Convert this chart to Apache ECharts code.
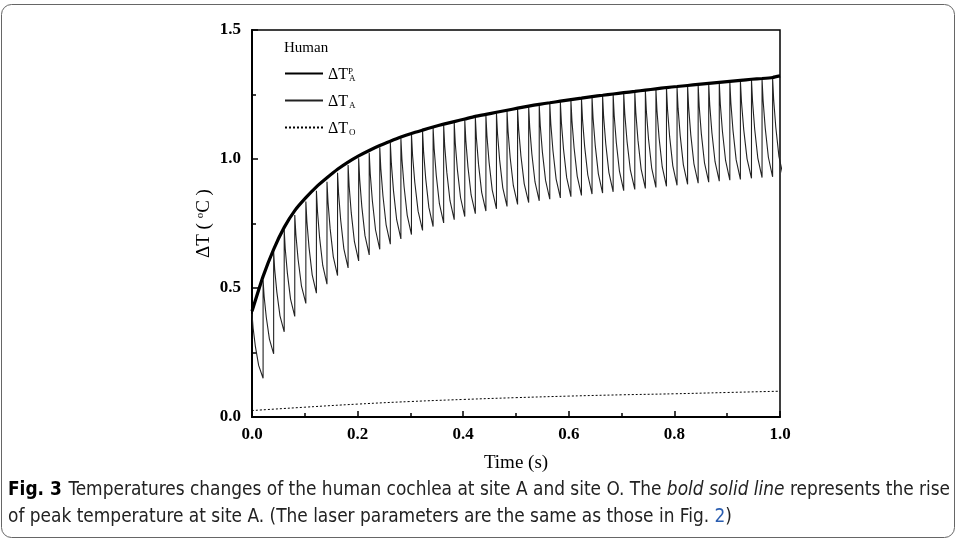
<!DOCTYPE html>
<html>
<head>
<meta charset="utf-8">
<script src="https://cdn.jsdelivr.net/npm/echarts@6/dist/echarts.min.js"></script>
<style>
html,body{margin:0;padding:0;background:#fff;}
#c{width:957px;height:541px;}
</style>
</head>
<body>
<div id="c"></div>
<script>
// ---- data ----
// times of the laser pulses (s); the last entry lies just past the axis end
const pulseTimes = [0, 0.021, 0.041, 0.061, 0.081, 0.102, 0.122, 0.142, 0.162, 0.182,
  0.202, 0.222, 0.242, 0.262, 0.282, 0.302, 0.323, 0.343, 0.363, 0.383,
  0.403, 0.423, 0.443, 0.463, 0.483, 0.503, 0.524, 0.544, 0.564, 0.584,
  0.604, 0.624, 0.644, 0.664, 0.684, 0.704, 0.725, 0.745, 0.765, 0.785,
  0.805, 0.825, 0.845, 0.865, 0.885, 0.905, 0.925, 0.946, 0.966, 0.986, 1.006];
// ΔT_A value at the top of each pulse
const peakA = [0.40, 0.53, 0.64, 0.725, 0.783, 0.835, 0.877, 0.912, 0.947, 0.977,
  1.003, 1.024, 1.045, 1.063, 1.080, 1.097, 1.110, 1.121, 1.131, 1.141,
  1.151, 1.162, 1.169, 1.177, 1.186, 1.194, 1.203, 1.209, 1.215, 1.222,
  1.228, 1.234, 1.240, 1.245, 1.250, 1.255, 1.260, 1.265, 1.270, 1.275,
  1.279, 1.283, 1.287, 1.291, 1.295, 1.299, 1.303, 1.307, 1.310, 1.314];
// ΔT_A value just before each following pulse (trough)
const troughA = [0.15, 0.245, 0.33, 0.39, 0.44, 0.48, 0.515, 0.548, 0.578, 0.605,
  0.628, 0.650, 0.670, 0.690, 0.707, 0.723, 0.738, 0.752, 0.765, 0.777,
  0.788, 0.798, 0.807, 0.816, 0.824, 0.831, 0.838, 0.844, 0.849, 0.854,
  0.859, 0.864, 0.868, 0.873, 0.877, 0.882, 0.886, 0.890, 0.894, 0.898,
  0.902, 0.906, 0.910, 0.914, 0.918, 0.921, 0.925, 0.928, 0.931, 0.934];
// shape of one cooling tail: fraction of the period vs. fraction of the drop
const tailFrac = [0.1, 0.3, 0.6];
const tailDrop = [0.22, 0.5, 0.8];
// ΔT_A^P (bold line): times and values
const peakLineTimes = [0, 0.021, 0.041, 0.061, 0.081, 0.102, 0.122, 0.142, 0.162, 0.182,
  0.202, 0.222, 0.242, 0.262, 0.282, 0.302, 0.323, 0.343, 0.363, 0.383,
  0.403, 0.423, 0.443, 0.463, 0.483, 0.503, 0.524, 0.544, 0.564, 0.584,
  0.604, 0.624, 0.644, 0.664, 0.684, 0.704, 0.725, 0.745, 0.765, 0.785,
  0.805, 0.825, 0.845, 0.865, 0.885, 0.905, 0.925, 0.946, 0.966, 0.986, 1.0];
const peakLineVals = [0.41, 0.545, 0.65, 0.735, 0.80, 0.85, 0.892, 0.927, 0.96, 0.988,
  1.012, 1.033, 1.052, 1.069, 1.085, 1.099, 1.112, 1.124, 1.135, 1.145,
  1.155, 1.165, 1.173, 1.181, 1.189, 1.197, 1.205, 1.212, 1.218, 1.224,
  1.230, 1.236, 1.242, 1.247, 1.252, 1.257, 1.262, 1.267, 1.272, 1.277,
  1.281, 1.285, 1.289, 1.293, 1.297, 1.301, 1.305, 1.309, 1.312, 1.316, 1.322];
// ΔT_O (dotted line)
const oTimes = [0, 0.1, 0.2, 0.3, 0.4, 0.5, 0.6, 0.7, 0.8, 0.9, 1.0];
const oVals = [0.025, 0.038, 0.050, 0.060, 0.068, 0.075, 0.081, 0.086, 0.090, 0.095, 0.100];
const yTicks = [0, 0.5, 1.0, 1.5];
const xTicks = [0, 0.2, 0.4, 0.6, 0.8, 1.0];

// ---- build series data ----
const thin = [];
for (let k = 0; k < peakA.length; k++) {
  const t0 = pulseTimes[k], t1 = pulseTimes[k + 1];
  if (k > 0) thin.push([t0, troughA[k - 1]]);
  thin.push([t0, peakA[k]]);
  for (let j = 0; j < tailFrac.length; j++) {
    thin.push([t0 + tailFrac[j] * (t1 - t0), peakA[k] - (peakA[k] - troughA[k]) * tailDrop[j]]);
  }
}
thin.push([pulseTimes[pulseTimes.length - 1], troughA[troughA.length - 1]]);
const bold = peakLineTimes.map((t, i) => [t, peakLineVals[i]]);
const dotted = oTimes.map((t, i) => [t, oVals[i]]);

const serif = "'Liberation Serif', 'DejaVu Serif', serif";
const sans = "'Liberation Sans Narrow','DejaVu Sans Condensed','Open Sans',sans-serif";
const legendRich = {
  m: {fontFamily: serif, fontSize: 16, color: '#000', lineHeight: 16},
  sup: {fontFamily: serif, fontSize: 9, color: '#000', verticalAlign: 'top', width: 1, padding: [0, 0, 9, 0], lineHeight: 9},
  sub: {fontFamily: serif, fontSize: 9, color: '#000', verticalAlign: 'bottom', lineHeight: 9, padding: [9, 0, 0, 0]}
};

const chart = echarts.init(document.getElementById('c'), null, {renderer: 'canvas'});
chart.setOption({
  backgroundColor: '#fff',
  animation: false,
  color: ['#000', '#222', '#000'],
  grid: {left: 252, right: 177, top: 30, bottom: 124, show: true, borderColor: '#000', borderWidth: 1.5, containLabel: false},
  xAxis: {
    type: 'value', min: 0, max: 1.0, interval: 0.2,
    name: 'Time (s)', nameLocation: 'middle', nameGap: 37,
    nameTextStyle: {fontFamily: serif, fontSize: 19, color: '#000'},
    axisLine: {show: true, lineStyle: {color: '#000', width: 2}},
    axisTick: {show: true, inside: true, length: 6, lineStyle: {color: '#000', width: 1.5}},
    minorTick: {show: true, splitNumber: 2, length: 4, lineStyle: {color: '#000', width: 1.5}},
    splitLine: {show: false},
    axisLabel: {fontFamily: serif, fontWeight: 'bold', fontSize: 17, color: '#000', margin: 9,
      formatter: v => xTicks.some(x => Math.abs(x - v) < 1e-9) ? v.toFixed(1) : ''}
  },
  yAxis: {
    type: 'value', min: 0, max: 1.5, interval: 0.5,
    name: '{a|ΔT ( }{s|o}{a|C )}', nameLocation: 'middle', nameGap: 38, nameRotate: 90,
    nameMoveOverlap: false,
    nameTextStyle: {rich: {
      a: {fontFamily: serif, fontSize: 19, color: '#000'},
      s: {fontFamily: serif, fontSize: 11, color: '#000', verticalAlign: 'top', padding: [0, 0, 8, 0]}
    }},
    axisLine: {show: true, lineStyle: {color: '#000', width: 2}},
    axisTick: {show: true, inside: true, length: 6, lineStyle: {color: '#000', width: 1.5}},
    minorTick: {show: true, splitNumber: 2, length: 4, lineStyle: {color: '#000', width: 1.5}},
    splitLine: {show: false},
    axisLabel: {fontFamily: serif, fontWeight: 'bold', fontSize: 17, color: '#000', margin: 11,
      formatter: v => yTicks.some(x => Math.abs(x - v) < 1e-9) ? v.toFixed(1) : ''}
  },
  legend: {
    orient: 'vertical', left: 279, top: 60, itemWidth: 38, itemHeight: 16, itemGap: 7,
    data: ['dTAP', 'dTA', 'dTO'],
    itemStyle: {opacity: 0},
    textStyle: {rich: legendRich, padding: [3, 0, 0, 0]},
    formatter: n => n === 'dTAP' ? '{m|ΔT}{sup|P}{sub|A}' : (n === 'dTA' ? '{m|ΔT}{sup| }{sub|A}' : '{m|ΔT}{sup| }{sub|O}')
  },
  graphic: [
    {type: 'rect', shape: {x: 1.5, y: 4.5, width: 953, height: 533, r: 10},
      style: {fill: 'none', stroke: '#666', lineWidth: 1}, silent: true},
    {type: 'text', left: 284, top: 41, style: {text: 'Human', font: "15px " + serif, fill: '#000'}},
    {type: 'text', left: 8, top: 481, style: {
      text: '{b|Fig. 3}  {n|Temperatures changes of the human cochlea at site A and site O. The }{i|bold solid line}{n| represents the rise}\n{n|of peak temperature at site A. (The laser parameters are the same as those in Fig. }{l|2}{n|)}',
      rich: {
        b: {fontFamily: sans, fontWeight: 'bold', fontSize: 18.9, fill: '#000', lineHeight: 27},
        n: {fontFamily: sans, fontSize: 18.9, fill: '#222', lineHeight: 27},
        i: {fontFamily: sans, fontStyle: 'italic', fontSize: 18.9, fill: '#222', lineHeight: 27},
        l: {fontFamily: sans, fontSize: 18.9, fill: '#2a5db0', lineHeight: 27}
      }
    }}
  ],
  series: [
    {name: 'dTAP', type: 'line', data: bold, showSymbol: false, symbol: 'none', smooth: 0.2,
      itemStyle: {color: '#000'}, lineStyle: {color: '#000', width: 3.2}, z: 3},
    {name: 'dTA', type: 'line', data: thin, showSymbol: false, symbol: 'none',
      itemStyle: {color: '#222'}, lineStyle: {color: '#222', width: 1.1}, z: 2},
    {name: 'dTO', type: 'line', data: dotted, showSymbol: false, symbol: 'none', smooth: true,
      itemStyle: {color: '#000'}, lineStyle: {color: '#000', width: 1, type: [2, 2]}, z: 2}
  ]
});
</script>
</body>
</html>
